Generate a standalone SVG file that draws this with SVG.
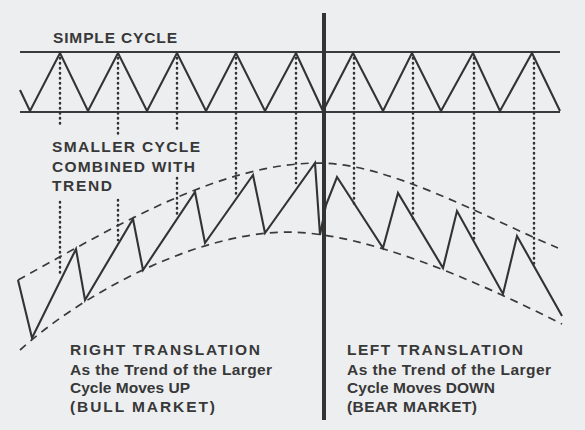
<svg xmlns="http://www.w3.org/2000/svg" width="585" height="430" viewBox="0 0 585 430">
<style>
.bg{fill:#eceef0}
.ln{fill:none;stroke:#333;stroke-width:2.1;stroke-linejoin:miter}
.hl{stroke:#3a3a3a;stroke-width:1.8}
.dash{fill:none;stroke:#3a3a3a;stroke-width:1.7;stroke-dasharray:8 6}
.dot{stroke:#333;stroke-width:2.5;stroke-linecap:round;stroke-dasharray:0.4 4.6}
.t{font-family:"Liberation Sans",Arial,sans-serif;font-weight:bold;font-size:15.5px;fill:#383838}
</style>
<rect class="bg" x="0" y="0" width="585" height="430"/>

<g id="simple-cycle">
<line class="hl" x1="20" y1="52" x2="560" y2="52"/>
<line class="hl" x1="20" y1="112" x2="560" y2="112"/>
<polyline class="ln" points="20,90 30,111 60,53 88,111 118,53 147,111 177,53 206,111 236,53 265,111 296,53 323,111 353,53 383,111 412,53 441,111 473,53 500,111 532,53 560,111"/>
</g>

<g id="dotted-guides">
<line class="dot" x1="60" y1="58" x2="60" y2="126"/>
<line class="dot" x1="60" y1="202" x2="60" y2="275"/>
<line class="dot" x1="118" y1="58" x2="118" y2="134"/>
<line class="dot" x1="118" y1="200" x2="118" y2="240"/>
<line class="dot" x1="177" y1="58" x2="177" y2="132"/>
<line class="dot" x1="177" y1="178" x2="177" y2="217"/>
<line class="dot" x1="236" y1="58" x2="236" y2="195"/>
<line class="dot" x1="296" y1="58" x2="296" y2="183"/>
<line class="dot" x1="354" y1="58" x2="354" y2="204"/>
<line class="dot" x1="413" y1="58" x2="413" y2="220"/>
<line class="dot" x1="474" y1="58" x2="474" y2="242"/>
<line class="dot" x1="534" y1="58" x2="534" y2="267"/>
</g>

<g id="envelopes">
<path class="dash" d="M18,280 C118,225 220,163 320,163 C390,164 478,214 558,248"/>
<path class="dash" d="M20,350 C75,300 190,232 290,232 C370,234 472,279 562,324"/>
</g>

<g id="sawtooth">
<polyline class="ln" points="18,280 32,338 76,249 85,300 133,219 143,270 195,192 205,243 253,175 265,233 315,163 320,235 326,205 337,177 383,248 398,193 443,268 457,211 503,294 517,236 562,316"/>
</g>

<g id="divider">
<line x1="324" y1="13" x2="324" y2="420" stroke="#333" stroke-width="4"/>
</g>

<g id="labels">
<text class="t" x="53" y="43" textLength="124" lengthAdjust="spacing">SIMPLE CYCLE</text>
<text class="t" x="52" y="152" textLength="148" lengthAdjust="spacing">SMALLER CYCLE</text>
<text class="t" x="52" y="172" textLength="143" lengthAdjust="spacing">COMBINED WITH</text>
<text class="t" x="52" y="191" textLength="60" lengthAdjust="spacing">TREND</text>
</g>

<g id="right-translation">
<text class="t" x="70" y="355" textLength="190" lengthAdjust="spacing">RIGHT TRANSLATION</text>
<text class="t" x="70" y="375" textLength="202" lengthAdjust="spacing">As the Trend of the Larger</text>
<text class="t" x="70" y="393" textLength="120" lengthAdjust="spacing">Cycle Moves UP</text>
<text class="t" x="70" y="412" textLength="145" lengthAdjust="spacing">(BULL MARKET)</text>
</g>

<g id="left-translation">
<text class="t" x="347" y="355" textLength="176" lengthAdjust="spacing">LEFT TRANSLATION</text>
<text class="t" x="347" y="375" textLength="204" lengthAdjust="spacing">As the Trend of the Larger</text>
<text class="t" x="347" y="393" textLength="148" lengthAdjust="spacing">Cycle Moves DOWN</text>
<text class="t" x="347" y="412" textLength="130" lengthAdjust="spacing">(BEAR MARKET)</text>
</g>
</svg>
